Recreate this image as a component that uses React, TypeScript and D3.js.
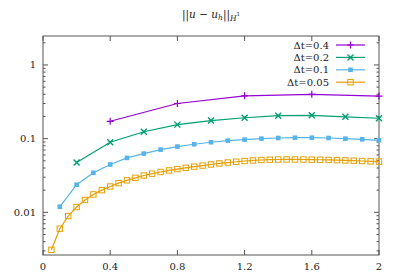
import React, { useRef, useEffect } from "react";
import * as d3 from "d3";

// Δt = 0.4
const x04 = [0.4, 0.8, 1.2, 1.6, 2.0];
const y04 = [0.172, 0.3, 0.381, 0.4, 0.378];

// Δt = 0.2
const x02 = [0.2, 0.4, 0.6, 0.8, 1.0, 1.2, 1.4, 1.6, 1.8, 2.0];
const y02 = [0.0474, 0.0894, 0.124, 0.155, 0.176, 0.192, 0.205, 0.207, 0.198, 0.189];

// Δt = 0.1
const x01 = [
  0.1, 0.2, 0.3, 0.4, 0.5, 0.6, 0.7, 0.8, 0.9, 1.0,
  1.1, 1.2, 1.3, 1.4, 1.5, 1.6, 1.7, 1.8, 1.9, 2.0,
];
const y01 = [
  0.0119, 0.0237, 0.0344, 0.0446, 0.0548, 0.0627, 0.071, 0.078, 0.084, 0.0894,
  0.094, 0.097, 0.1, 0.102, 0.103, 0.103, 0.102, 0.1, 0.098, 0.095,
];

// Δt = 0.05
const x005 = [
  0.05, 0.1, 0.15, 0.2, 0.25, 0.3, 0.35, 0.4, 0.45, 0.5,
  0.55, 0.6, 0.65, 0.7, 0.75, 0.8, 0.85, 0.9, 0.95, 1.0,
  1.05, 1.1, 1.15, 1.2, 1.25, 1.3, 1.35, 1.4, 1.45, 1.5,
  1.55, 1.6, 1.65, 1.7, 1.75, 1.8, 1.85, 1.9, 1.95, 2.0,
];
const y005 = [
  0.0031, 0.006, 0.0089, 0.0118, 0.0147, 0.0175, 0.02, 0.0224, 0.0249, 0.0272,
  0.0294, 0.0316, 0.0335, 0.0353, 0.037, 0.0386, 0.0402, 0.0417, 0.0431, 0.0446,
  0.0461, 0.0474, 0.0486, 0.0497, 0.0506, 0.0513, 0.0518, 0.0521, 0.0522, 0.0522,
  0.0521, 0.0519, 0.0517, 0.0514, 0.0511, 0.0507, 0.0502, 0.0497, 0.0492, 0.0488,
];

const xTicks = [0, 0.4, 0.8, 1.2, 1.6, 2];
const xTickLabels = ["0", "0.4", "0.8", "1.2", "1.6", "2"];
const yTicks = [1, 0.1, 0.01];
const yTickLabels = ["1", "0.1", "0.01"];

const series = [
  { label: "Δt=0.4", xs: x04, ys: y04, color: "#9400d3", marker: "plus" },
  { label: "Δt=0.2", xs: x02, ys: y02, color: "#009e73", marker: "cross" },
  { label: "Δt=0.1", xs: x01, ys: y01, color: "#56b4e9", marker: "fsquare" },
  { label: "Δt=0.05", xs: x005, ys: y005, color: "#e69f00", marker: "osquare" },
];

const App = () => {
  const ref = useRef<SVGSVGElement>(null);

  useEffect(() => {
    const width = 399;
    const height = 279;
    const m = { left: 43, right: 20, top: 36, bottom: 24 };
    const font = "'DejaVu Serif', serif";
    const axisColor = "#555";

    const svg = d3.select(ref.current);
    svg.selectAll("*").remove();

    const x = d3.scaleLinear().domain([0, 2]).range([m.left, width - m.right]);
    const y = d3
      .scaleLog()
      .domain([Math.pow(10, -2.579), Math.pow(10, 0.393)])
      .range([height - m.bottom, m.top]);

    const [x0, x1] = x.range();
    const [yb, yt] = y.range();

    // frame
    svg
      .append("rect")
      .attr("x", x0)
      .attr("y", yt)
      .attr("width", x1 - x0)
      .attr("height", yb - yt)
      .attr("fill", "none")
      .attr("stroke", axisColor)
      .attr("stroke-width", 1);

    const ticks = svg.append("g").attr("stroke", axisColor).attr("stroke-width", 1);

    // x ticks, bottom and mirrored top
    xTicks.forEach((t) => {
      ticks.append("line").attr("x1", x(t)).attr("x2", x(t)).attr("y1", yb).attr("y2", yb - 5);
      ticks.append("line").attr("x1", x(t)).attr("x2", x(t)).attr("y1", yt).attr("y2", yt + 5);
    });

    // y ticks, major + minor (log)
    const [dLo, dHi] = y.domain();
    for (let e = -3; e <= 0; e++) {
      for (let k = 1; k <= 9; k++) {
        const v = k * Math.pow(10, e);
        if (v < dLo || v > dHi) continue;
        const len = k === 1 ? 5 : 2.5;
        ticks.append("line").attr("x1", x0).attr("x2", x0 + len).attr("y1", y(v)).attr("y2", y(v));
        ticks.append("line").attr("x1", x1).attr("x2", x1 - len).attr("y1", y(v)).attr("y2", y(v));
      }
    }

    // tick labels
    svg
      .append("g")
      .style("font-family", font)
      .style("font-size", "10px")
      .attr("fill", "#222")
      .attr("text-anchor", "middle")
      .selectAll("text")
      .data(xTicks)
      .join("text")
      .attr("x", (d) => x(d))
      .attr("y", yb + 15)
      .text((d, i) => xTickLabels[i]);

    svg
      .append("g")
      .style("font-family", font)
      .style("font-size", "10px")
      .attr("fill", "#222")
      .attr("text-anchor", "end")
      .selectAll("text")
      .data(yTicks)
      .join("text")
      .attr("x", x0 - 7)
      .attr("y", (d) => y(d))
      .attr("dy", "0.35em")
      .text((d, i) => yTickLabels[i]);

    // title
    const title = svg
      .append("text")
      .attr("x", (x0 + x1) / 2)
      .attr("y", 18)
      .attr("text-anchor", "middle")
      .style("font-family", font)
      .style("font-size", "10.5px")
      .attr("fill", "#222");
    title.append("tspan").text("||");
    title.append("tspan").style("font-style", "italic").text("u");
    title.append("tspan").text(" − ");
    title.append("tspan").style("font-style", "italic").text("u");
    title.append("tspan").style("font-style", "italic").style("font-size", "7.5px").attr("dy", 2).text("h");
    title.append("tspan").attr("dy", -2).text("||");
    title.append("tspan").style("font-style", "italic").style("font-size", "7.5px").attr("dy", 2.5).text("H");
    title.append("tspan").style("font-size", "5.5px").attr("dy", -4.5).text("1");

    const drawMarker = (g: any, cx: number, cy: number, type: string, color: string) => {
      if (type === "plus") {
        g.append("path")
          .attr("d", `M${cx - 3.5},${cy}H${cx + 3.5}M${cx},${cy - 3.5}V${cy + 3.5}`)
          .attr("stroke", color)
          .attr("stroke-width", 1.2);
      } else if (type === "cross") {
        g.append("path")
          .attr("d", `M${cx - 3},${cy - 3}L${cx + 3},${cy + 3}M${cx - 3},${cy + 3}L${cx + 3},${cy - 3}`)
          .attr("stroke", color)
          .attr("stroke-width", 1.4);
      } else if (type === "fsquare") {
        g.append("rect")
          .attr("x", cx - 2.3)
          .attr("y", cy - 2.3)
          .attr("width", 4.6)
          .attr("height", 4.6)
          .attr("fill", color);
      } else {
        g.append("rect")
          .attr("x", cx - 2.7)
          .attr("y", cy - 2.7)
          .attr("width", 5.4)
          .attr("height", 5.4)
          .attr("fill", "none")
          .attr("stroke", color)
          .attr("stroke-width", 1);
      }
    };

    const line = d3
      .line<[number, number]>()
      .x((d) => x(d[0]))
      .y((d) => y(d[1]));

    series.forEach((s) => {
      const pts: [number, number][] = s.xs.map((v, i) => [v, s.ys[i]]);
      const g = svg.append("g");
      g.append("path")
        .attr("d", line(pts))
        .attr("fill", "none")
        .attr("stroke", s.color)
        .attr("stroke-width", 1.2);
      pts.forEach((p) => drawMarker(g, x(p[0]), y(p[1]), s.marker, s.color));
    });

    // legend
    const legend = svg.append("g");
    series.forEach((s, i) => {
      const ly = 45 + i * 12.4;
      legend
        .append("text")
        .attr("x", 329)
        .attr("y", ly)
        .attr("dy", "0.35em")
        .attr("text-anchor", "end")
        .style("font-family", font)
        .style("font-size", "10px")
        .attr("fill", "#222")
        .text(s.label);
      legend
        .append("line")
        .attr("x1", 336)
        .attr("x2", 365)
        .attr("y1", ly)
        .attr("y2", ly)
        .attr("stroke", s.color)
        .attr("stroke-width", 1.2);
      drawMarker(legend, 350.5, ly, s.marker, s.color);
    });
  }, []);

  return (
    <svg
      ref={ref}
      width={399}
      height={279}
      style={{ position: "absolute", left: 0, top: 0, background: "#fff" }}
    />
  );
};

export default App;
